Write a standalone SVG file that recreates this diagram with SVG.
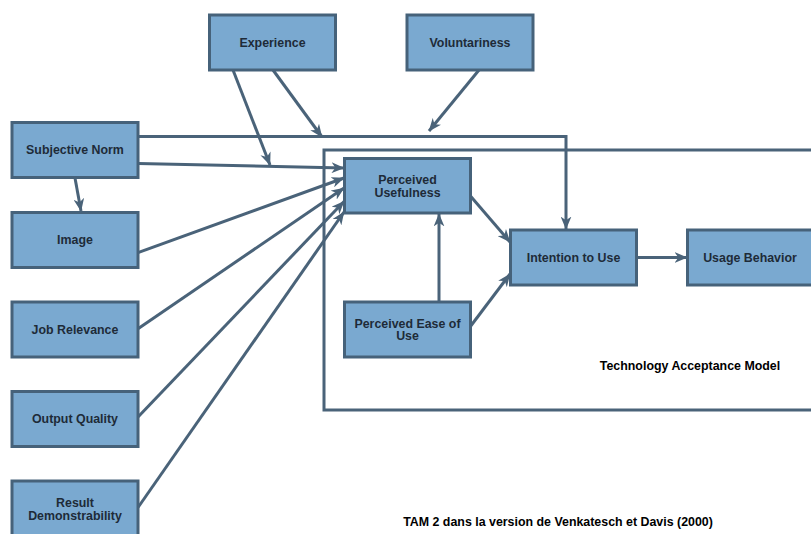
<svg xmlns="http://www.w3.org/2000/svg" width="811" height="534" viewBox="0 0 811 534">
<style>
.box{fill:#7aa9d0;stroke:#46627a;stroke-width:3}
.lbl{font-family:"Liberation Sans",Arial,sans-serif;font-weight:bold;font-size:12.4px;fill:#1e2b38;text-anchor:middle}
.cap{font-family:"Liberation Sans",Arial,sans-serif;font-weight:bold;font-size:12.4px;fill:#000;text-anchor:middle}
.ln{fill:none;stroke:#4a6379;stroke-width:3;marker-end:url(#ah)}
.frame{fill:none;stroke:#4a6379;stroke-width:3}
</style>
<defs>
<marker id="ah" viewBox="0 0 12 10" refX="11.5" refY="5" markerWidth="13" markerHeight="11" markerUnits="userSpaceOnUse" orient="auto">
<path d="M0,0 L12,5 L0,10 L3.5,5 z" fill="#4a6379"/>
</marker>
</defs>
<rect width="811" height="534" fill="#fff"/>
<rect class="frame" x="324" y="150" width="500" height="260"/>
<g id="connectors">
<polyline class="ln" points="138,136.5 566,136.5 566,229"/>
<line class="ln" x1="138" y1="163.5" x2="344" y2="168"/>
<line class="ln" x1="233" y1="70" x2="270" y2="165"/>
<line class="ln" x1="273" y1="70" x2="322" y2="137"/>
<line class="ln" x1="479" y1="70" x2="429" y2="131"/>
<line class="ln" x1="75" y1="178" x2="81" y2="211"/>
<line class="ln" x1="138" y1="252.7" x2="344" y2="178"/>
<line class="ln" x1="138" y1="328.7" x2="344" y2="188"/>
<line class="ln" x1="138" y1="417" x2="344" y2="201.5"/>
<line class="ln" x1="138" y1="507.5" x2="344" y2="212"/>
<line class="ln" x1="470" y1="195.5" x2="510" y2="242"/>
<line class="ln" x1="439" y1="302" x2="439" y2="214"/>
<line class="ln" x1="470" y1="327" x2="510" y2="274"/>
<line class="ln" x1="637" y1="257.5" x2="687" y2="257.5"/>
</g>
<g id="experience"><rect class="box" x="209.5" y="15" width="126" height="55"/><text class="lbl" x="272.5" y="47">Experience</text></g>
<g id="voluntariness"><rect class="box" x="407" y="15" width="126" height="55"/><text class="lbl" x="470" y="47">Voluntariness</text></g>
<g id="subjective-norm"><rect class="box" x="12" y="122.5" width="126" height="55"/><text class="lbl" x="75" y="154">Subjective Norm</text></g>
<g id="image"><rect class="box" x="12" y="212.5" width="126" height="55"/><text class="lbl" x="75" y="244">Image</text></g>
<g id="job-relevance"><rect class="box" x="12" y="302" width="126" height="55"/><text class="lbl" x="75" y="333.5">Job Relevance</text></g>
<g id="output-quality"><rect class="box" x="12" y="391.5" width="126" height="55"/><text class="lbl" x="75" y="423">Output Quality</text></g>
<g id="result-demonstrability"><rect class="box" x="12" y="481" width="126" height="60"/><text class="lbl" x="75" y="507">Result</text><text class="lbl" x="75" y="519.5">Demonstrability</text></g>
<g id="perceived-usefulness"><rect class="box" x="344.5" y="158.5" width="126" height="54.5"/><text class="lbl" x="407.5" y="184">Perceived</text><text class="lbl" x="407.5" y="196.5">Usefulness</text></g>
<g id="perceived-ease-of-use"><rect class="box" x="344.5" y="302" width="126" height="55"/><text class="lbl" x="407.5" y="327.5">Perceived Ease of</text><text class="lbl" x="407.5" y="340">Use</text></g>
<g id="intention-to-use"><rect class="box" x="510.5" y="230" width="126" height="55"/><text class="lbl" x="573.5" y="262">Intention to Use</text></g>
<g id="usage-behavior"><rect class="box" x="687.5" y="230" width="126" height="55"/><text class="lbl" x="750" y="262">Usage Behavior</text></g>
<text class="cap" x="690" y="370">Technology Acceptance Model</text>
<text class="cap" x="558" y="525.5">TAM 2 dans la version de Venkatesch et Davis (2000)</text>
</svg>
